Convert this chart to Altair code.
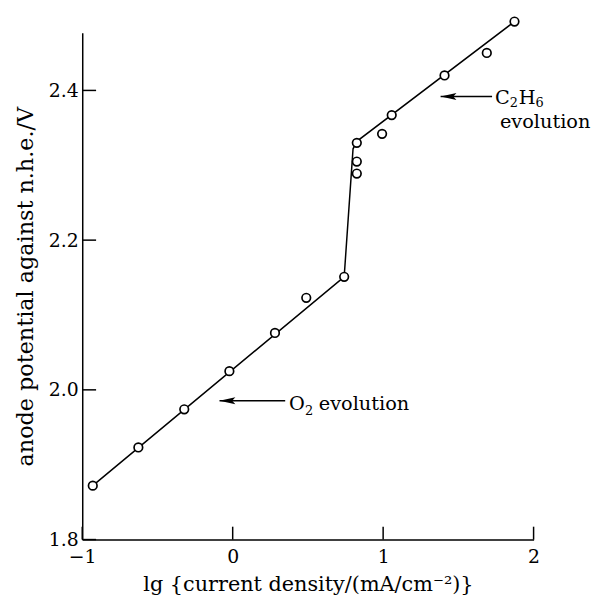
import altair as alt
import pandas as pd

# measured points
pt_x = [-0.93, -0.627, -0.322, -0.022, 0.281, 0.489, 0.741, 0.825, 0.825, 0.825, 0.993, 1.057, 1.408, 1.689, 1.873]
pt_y = [1.872, 1.923, 1.974, 2.025, 2.076, 2.123, 2.151, 2.330, 2.305, 2.289, 2.342, 2.367, 2.420, 2.450, 2.492]

# fitted line vertices
line_x = [-0.93, 0.741, 0.80, 0.825, 1.873]
line_y = [1.872, 2.151, 2.322, 2.332, 2.492]

x_ticks = [-1, 0, 1, 2]
y_ticks = [1.8, 2.0, 2.2, 2.4]

# arrows: tail (text side) -> tip
arrow_x = [1.724, 0.349]
arrow_tip = [1.382, -0.0875]
arrow_y = [2.3918, 1.9855]

# annotation text pieces (baseline positions)
main_text = ["O", "evolution", "C", "H", "evolution"]
main_x = [0.375, 0.572, 1.743, 1.901, 1.776]
main_y = [1.9732, 1.9732, 2.3816, 2.3816, 2.3495]
sub_text = ["2", "2", "6"]
sub_x = [0.480, 1.842, 2.013]
sub_y = [1.9666, 2.3776, 2.3776]

FONT = "DejaVu Serif"
XD = [-1, 2]
YD = [1.8, 2.477]

xs = alt.Scale(domain=XD, nice=False, zero=False)
ys = alt.Scale(domain=YD, nice=False, zero=False)

pts = pd.DataFrame({"x": pt_x, "y": pt_y})
ln = pd.DataFrame({"x": line_x, "y": line_y, "o": list(range(len(line_x)))})
arr = pd.DataFrame({"x": arrow_x, "x2": arrow_tip, "y": arrow_y})
mt = pd.DataFrame({"t": main_text, "x": main_x, "y": main_y})
st = pd.DataFrame({"t": sub_text, "x": sub_x, "y": sub_y})
xt = pd.DataFrame({"x": x_ticks})
yt = pd.DataFrame({"y": y_ticks})

xaxis = alt.Axis(values=x_ticks, format="d", title="lg {current density/(mA/cm⁻²)}",
                 grid=False, ticks=False, labelPadding=8, titlePadding=7,
                 labelFlush=False, titleFontSize=21,
                 domainColor="black", domainWidth=1.5)
yaxis = alt.Axis(values=y_ticks, format=".1f", title="anode potential against n.h.e./V",
                 grid=False, ticks=False, labelPadding=4, titlePadding=11,
                 labelFlush=False, titleFontSize=22.5,
                 domainColor="black", domainWidth=1.5)

line = alt.Chart(ln).mark_line(color="black", strokeWidth=1.5).encode(
    x=alt.X("x:Q", scale=xs, axis=xaxis),
    y=alt.Y("y:Q", scale=ys, axis=yaxis),
    order="o:Q",
)

points = alt.Chart(pts).mark_point(shape="circle", filled=True, fill="white", stroke="black",
                                    strokeWidth=1.7, size=75, opacity=1).encode(
    x=alt.X("x:Q", scale=xs), y=alt.Y("y:Q", scale=ys))

xtick = alt.Chart(xt).mark_rule(color="black", strokeWidth=1.5).encode(
    x=alt.X("x:Q", scale=xs), y=alt.value(512), y2=alt.value(499))
ytick = alt.Chart(yt).mark_rule(color="black", strokeWidth=1.5).encode(
    y=alt.Y("y:Q", scale=ys), x=alt.value(0), x2=alt.value(14))

arrows = alt.Chart(arr).mark_rule(color="black", strokeWidth=1.5).encode(
    x=alt.X("x:Q", scale=xs), x2="x2:Q", y=alt.Y("y:Q", scale=ys))
heads = alt.Chart(arr).mark_point(shape="M 0 0 L 2 -0.45 L 1.6 0 L 2 0.45 Z", filled=True,
                                   color="black", size=256, opacity=1).encode(
    x=alt.X("x2:Q", scale=xs), y=alt.Y("y:Q", scale=ys))

texts = alt.Chart(mt).mark_text(align="left", baseline="alphabetic", font=FONT, fontSize=19.5,
                                 color="black").encode(
    x=alt.X("x:Q", scale=xs), y=alt.Y("y:Q", scale=ys), text="t:N")
subs = alt.Chart(st).mark_text(align="left", baseline="alphabetic", font=FONT, fontSize=13,
                                color="black").encode(
    x=alt.X("x:Q", scale=xs), y=alt.Y("y:Q", scale=ys), text="t:N")

chart = alt.layer(line, points, xtick, ytick, arrows, heads, texts, subs).properties(
    width=456, height=512,
    padding={"left": 75, "top": 22, "right": 58, "bottom": 56},
    autosize=alt.AutoSizeParams(type="none"),
    background="white",
).configure_view(stroke=None).configure_axis(
    labelFont=FONT, titleFont=FONT, labelFontSize=19,
    labelColor="black", titleColor="black", titleFontWeight="normal",
)

chart.save("out.html", embed_options={"renderer": "svg", "actions": False})
